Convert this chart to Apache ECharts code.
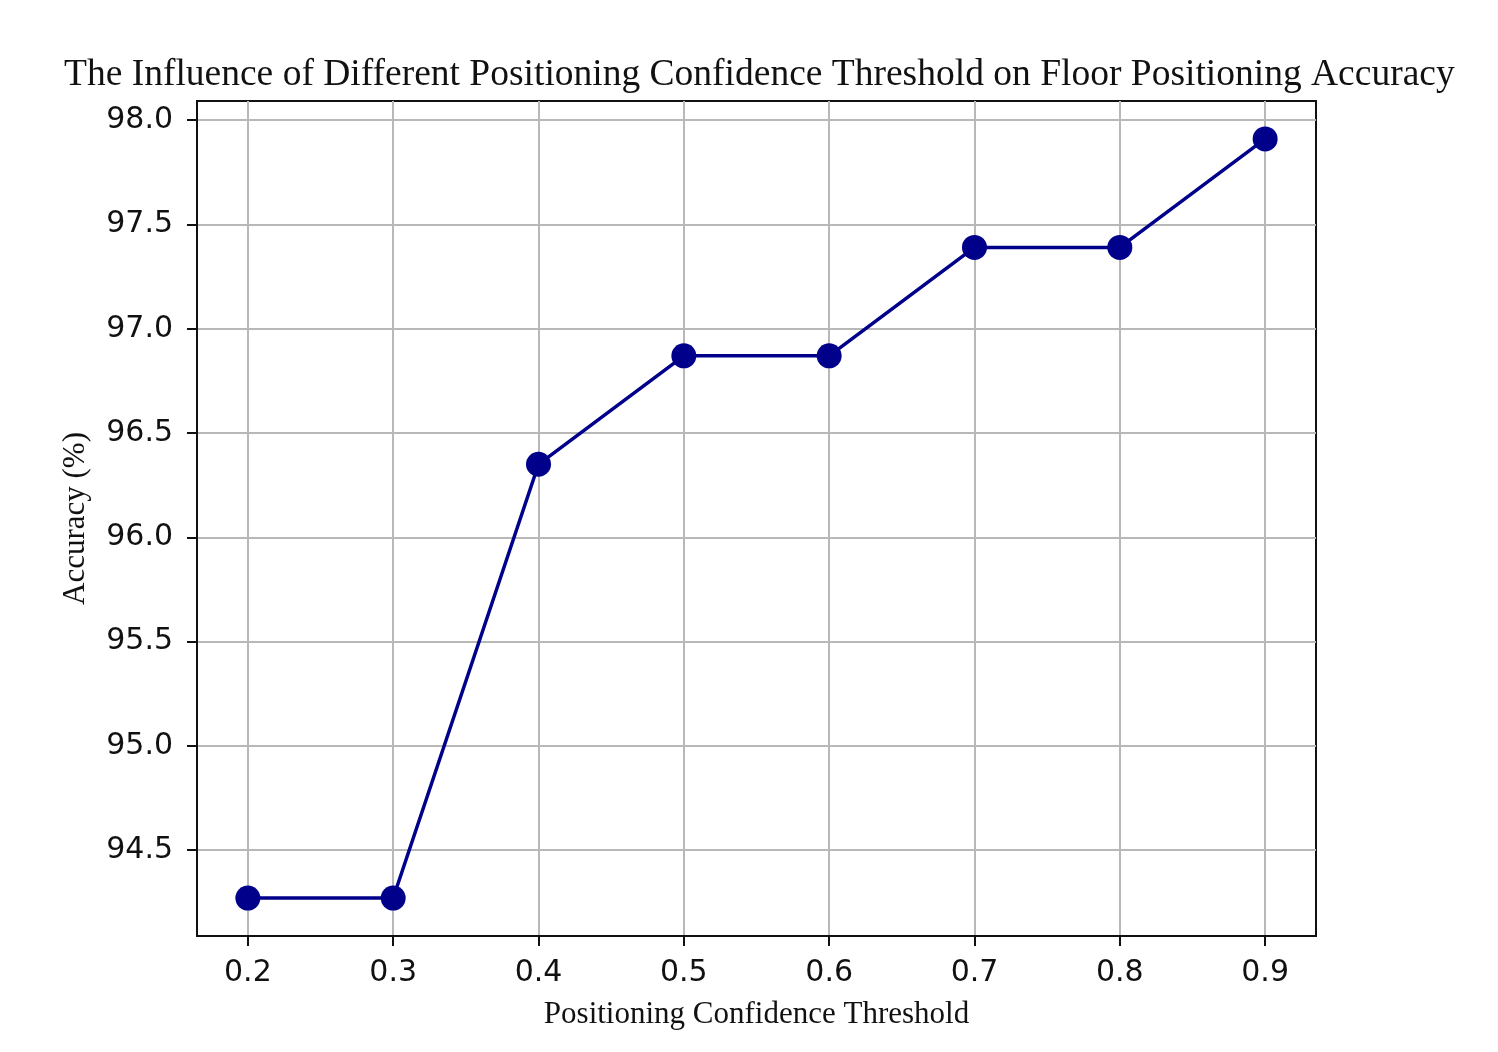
<!DOCTYPE html>
<html>
<head>
<meta charset="utf-8">
<script src="https://cdn.jsdelivr.net/npm/echarts@6/dist/echarts.min.js"></script>
<style>html,body{margin:0;padding:0;background:#fff}#c{width:1498px;height:1052px}</style>
</head>
<body>
<div id="c"></div>
<script>
const thresholds = [0.2, 0.3, 0.4, 0.5, 0.6, 0.7, 0.8, 0.9];
const accuracy = [94.27, 94.27, 96.35, 96.87, 96.87, 97.39, 97.39, 97.91];
const xTicks = [0.2, 0.3, 0.4, 0.5, 0.6, 0.7, 0.8, 0.9];
const yTicks = [94.5, 95.0, 95.5, 96.0, 96.5, 97.0, 97.5, 98.0];

const chart = echarts.init(document.getElementById('c'), null, {renderer: 'canvas'});
const serif = '"Liberation Serif", "DejaVu Serif", serif';
const sans = '"DejaVu Sans", sans-serif';
chart.setOption({
  backgroundColor: '#fff',
  animation: false,
  title: {
    text: 'The Influence of Different Positioning Confidence Threshold on Floor Positioning Accuracy',
    left: 59, top: 51,
    textStyle: {fontFamily: serif, fontSize: 37.5, fontWeight: 'normal', color: '#111'}
  },
  grid: {left: 197, right: 182, top: 101, bottom: 116, show: true, borderColor: '#111', borderWidth: 2, backgroundColor: 'transparent'},
  xAxis: {
    type: 'value', min: 0.165, max: 0.935,
    name: 'Positioning Confidence Threshold', nameLocation: 'middle', nameGap: 63,
    nameTextStyle: {fontFamily: serif, fontSize: 31, color: '#111'},
    axisLine: {show: true, onZero: false, lineStyle: {color: '#111', width: 2}},
    axisTick: {show: true, customValues: xTicks, length: 10, lineStyle: {color: '#111', width: 2}},
    axisLabel: {customValues: xTicks, margin: 22, fontFamily: sans, fontSize: 30, color: '#111', formatter: v => v.toFixed(1)},
    splitLine: {show: true, lineStyle: {color: '#b8b8b8', width: 2}}
  },
  yAxis: {
    type: 'value', min: 94.088, max: 98.092,
    name: 'Accuracy (%)', nameLocation: 'middle', nameGap: 106,
    nameTextStyle: {fontFamily: serif, fontSize: 31, color: '#111'},
    axisLine: {show: true, onZero: false, lineStyle: {color: '#111', width: 2}},
    axisTick: {show: true, customValues: yTicks, length: 10, lineStyle: {color: '#111', width: 2}},
    axisLabel: {customValues: yTicks, margin: 24, fontFamily: sans, fontSize: 30, color: '#111', formatter: v => v.toFixed(1)},
    splitLine: {show: true, lineStyle: {color: '#b8b8b8', width: 2}}
  },
  series: [{
    type: 'line',
    data: thresholds.map((t, i) => [t, accuracy[i]]),
    symbol: 'circle', symbolSize: 25,
    lineStyle: {color: '#00008B', width: 3.5},
    itemStyle: {color: '#00008B'}
  }]
});
</script>
</body>
</html>
